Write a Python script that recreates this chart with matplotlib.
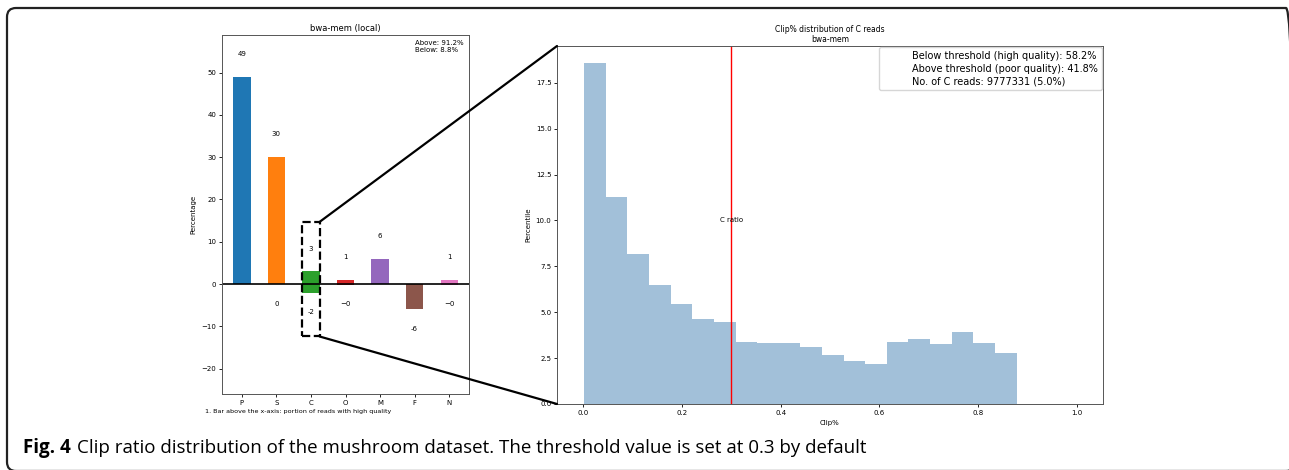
import numpy as np
import matplotlib
matplotlib.use("Agg")
import matplotlib.pyplot as plt
from matplotlib.patches import Rectangle, ConnectionPatch, FancyBboxPatch
from matplotlib.lines import Line2D
from matplotlib.transforms import IdentityTransform

# --- left panel: read categories ---
categorias = ["P", "S", "C", "O", "M", "F", "N"]
arriba = [49, 30, 3, 1, 6, 0, 1]
abajo = [0, 0, -2, -0.2, 0, -6, -0.2]
etiq_arriba = ["49", "30", "3", "1", "6", "", "1"]
etiq_abajo = ["", "0", "-2", "\u22120", "", "-6", "\u22120"]
colores = ["tab:blue", "tab:orange", "tab:green", "tab:red",
           "tab:purple", "tab:brown", "tab:pink"]

# --- right panel: clip% histogram of C reads ---
bordes = np.linspace(0.002, 0.878, 21)
percentil = [18.6, 11.3, 8.18, 6.49, 5.47, 4.65, 4.44, 3.40, 3.33, 3.33,
             3.11, 2.69, 2.36, 2.20, 3.36, 3.56, 3.27, 3.93, 3.31, 2.76]
umbral = 0.3
leyenda = ["Below threshold (high quality): 58.2%",
           "Above threshold (poor quality): 41.8%",
           "No. of C reads: 9777331 (5.0%)"]

W, H = 1289, 470
fig = plt.figure(figsize=(W / 100, H / 100), dpi=100)
plt.rcParams['font.family'] = ['DejaVu Sans']

# marco redondeado de la figura (se sale un poco por la derecha y abajo)
marco = FancyBboxPatch((7, -1), 1288, 463, boxstyle="round,pad=0,rounding_size=9",
                       transform=IdentityTransform(), fill=False,
                       edgecolor="#222222", linewidth=1.6)
fig.patches.append(marco)

ax1 = fig.add_axes([222 / W, 1 - 394 / H, 247 / W, 359 / H])
x = np.arange(len(categorias))
ax1.bar(x, arriba, width=0.5, color=colores)
ax1.bar(x, abajo, width=0.5, color=colores)
ax1.axhline(0, color="black", linewidth=1.2)
for xi, v, t in zip(x, arriba, etiq_arriba):
    if t:
        ax1.text(xi, v + 5.4, t, ha="center", va="center", fontsize=5)
for xi, v, t in zip(x, abajo, etiq_abajo):
    if t:
        ax1.text(xi, v - 4.6, t, ha="center", va="center", fontsize=5)
ax1.set_xticks(x)
ax1.set_xticklabels(categorias)
ax1.set_ylim(-26, 58.9)
ax1.set_ylabel("Percentage", fontsize=5)
ax1.set_title("bwa-mem (local)", fontsize=6, pad=3)
ax1.text(0.98, 0.985, "Above: 91.2%\nBelow: 8.8%", transform=ax1.transAxes,
         ha="right", va="top", fontsize=5, multialignment="left")
ax1.tick_params(labelsize=5, length=2, width=0.6, pad=2)
for s in ax1.spines.values():
    s.set_linewidth(0.7)
    s.set_color("#555555")

# recuadro discontinuo sobre C
caja = Rectangle((1.75, -12.4), 0.5, 27.1, fill=False, linestyle="--",
                 linewidth=1.6, edgecolor="black", clip_on=False, zorder=5)
ax1.add_patch(caja)

fig.text(205 / W, 1 - 411 / H, "1. Bar above the x-axis: portion of reads with high quality",
         fontsize=4.6, va="center")

ax2 = fig.add_axes([557 / W, 1 - 404 / H, 546 / W, 358 / H])
ax2.hist(bordes[:-1], bins=bordes, weights=percentil, color="steelblue", alpha=0.5)
ax2.axvline(umbral, color="red", linewidth=1.0)
ax2.text(umbral, 10, "C ratio", ha="center", va="center", fontsize=5)
ax2.set_xlim(-0.053, 1.053)
ax2.set_ylim(0, 19.5)
ax2.set_xlabel("Clip%", fontsize=5, labelpad=3)
ax2.set_ylabel("Percentile", fontsize=5, labelpad=3)
ax2.set_title("Clip% distribution of C reads\nbwa-mem", fontsize=5.5, pad=3,
              linespacing=1.1)
ax2.tick_params(labelsize=5, length=2, width=0.6, pad=2)
for s in ax2.spines.values():
    s.set_linewidth(0.7)
    s.set_color("#555555")
manejadores = [Line2D([], [], linestyle="none") for _ in leyenda]
ax2.legend(manejadores, leyenda, loc="upper right", fontsize=7,
           handlelength=2.3, borderaxespad=0.15, labelspacing=0.3,
           borderpad=0.35)

# lineas de zoom
for ya, yb in [(14.7, 1), (-12.4, 0)]:
    con = ConnectionPatch(xyA=(2.25, ya), coordsA=ax1.transData,
                          xyB=(0, yb), coordsB=ax2.transAxes,
                          color="black", linewidth=1.6)
    fig.add_artist(con)

# pie de figura: "Fig. 4" en negrita y el resto justo detras
t1 = fig.text(23 / W, 1 - 448 / H, "Fig. 4", fontsize=13.5, fontweight="bold",
              family="Open Sans", va="center")
r = fig.canvas.get_renderer()
fin = t1.get_window_extent(r).x1
fig.text((fin + 6) / W, 1 - 448 / H,
         "Clip ratio distribution of the mushroom dataset. The threshold value is set at 0.3 by default",
         fontsize=13.5, family="Open Sans", va="center")

fig.savefig("out.png", dpi=100)
